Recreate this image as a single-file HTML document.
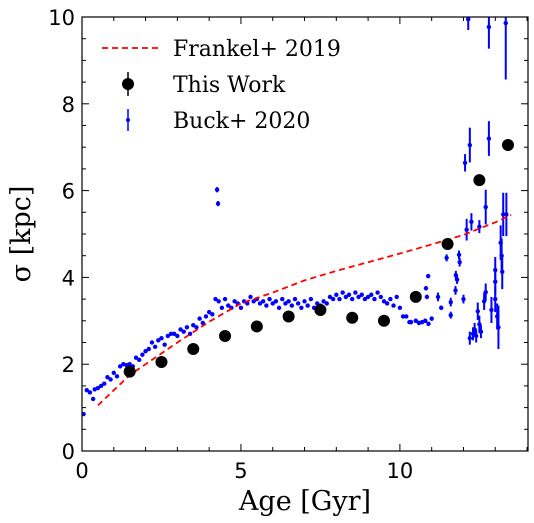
<!DOCTYPE html>
<html><head><meta charset="utf-8"><style>
html,body{margin:0;padding:0;background:#fff;}
svg{display:block;}
</style></head><body>
<svg id="chart" width="534" height="523" xmlns="http://www.w3.org/2000/svg"></svg>
<script>
const frankelAge=[0.5,1,1.5,2,3,4,5,6,7,8,9,10,11,12,13,13.5];
const frankelSig=[1.05,1.4,1.75,2.0,2.5,2.98,3.4,3.65,3.93,4.15,4.35,4.55,4.76,4.98,5.27,5.44];
const workAge=[1.5,2.5,3.5,4.5,5.5,6.5,7.5,8.5,9.5,10.5,11.5,12.5,13.4];
const workSig=[1.83,2.05,2.35,2.65,2.87,3.1,3.25,3.07,3.0,3.55,4.77,6.24,7.05];
// Buck+2020, young/smooth part (tiny error bars)
const buckAge=[0.05,0.15,0.25,0.35,0.4,0.5,0.6,0.7,0.8,0.9,1.0,1.1,1.2,1.3,1.4,1.5,1.6,1.7,1.8,1.9,2.0,2.1,2.2,2.3,2.4,2.5,2.6,2.7,2.8,2.9,3.0,3.1,3.2,3.3,3.4,3.5,3.6,3.7,3.8,3.9,4.0,4.1,4.2,4.3,4.4,4.5,4.6,4.7,4.8,4.9,5.0,5.1,5.2,5.3,5.4,5.5,5.6,5.7,5.8,5.9,6.0,6.1,6.2,6.3,6.4,6.5,6.6,6.7,6.8,6.9,7.0,7.1,7.2,7.3,7.4,7.5,7.6,7.7,7.8,7.9,8.0,8.1,8.2,8.3,8.4,8.5,8.6,8.7,8.8,8.9,9.0,9.1,9.2,9.3,9.4,9.5,9.6,9.7,9.8,9.9,10.0,10.1,10.2,10.3];
const buckSig=[0.85,1.4,1.35,1.2,1.42,1.45,1.5,1.55,1.7,1.65,1.8,1.72,1.95,2.0,1.98,2.0,1.95,2.15,2.1,2.22,2.3,2.35,2.5,2.4,2.55,2.6,2.45,2.65,2.7,2.7,2.65,2.8,2.75,2.85,2.7,2.9,2.85,3.05,2.95,3.1,3.2,3.15,3.5,3.45,3.3,3.5,3.35,3.3,3.45,3.4,3.3,3.45,3.4,3.55,3.45,3.5,3.4,3.45,3.35,3.5,3.4,3.45,3.3,3.5,3.4,3.45,3.35,3.5,3.4,3.3,3.45,3.35,3.5,3.3,3.4,3.35,3.45,3.4,3.55,3.5,3.6,3.5,3.65,3.55,3.6,3.5,3.65,3.55,3.6,3.5,3.55,3.6,3.5,3.65,3.55,3.45,3.4,3.5,3.35,3.55,3.3,3.1,3.1,2.97];
// Buck+2020, old/noisy part with error bars
const oldAge=[10.35,10.5,10.6,10.7,10.8,10.82,10.85,10.89,10.9,11.0,11.2,11.3,11.47,11.6,11.6,11.75,11.76,11.8,11.86,11.88,12.0,12.05,12.1,12.2,12.25,12.3,12.35,12.4,12.45,12.5,12.5,12.55,12.7,12.7,12.8,12.88,13.0,13.0,13.0,13.06,13.1,13.17,13.2,13.22,13.25,13.35,12.15,12.8,13.33,12.2,12.65,4.25,4.28];
const oldSig=[2.97,3.0,2.95,2.97,3.0,3.75,3.55,4.03,2.93,3.05,3.55,3.3,4.45,3.43,3.13,3.7,4.05,3.95,4.52,4.35,3.5,6.64,5.1,7.05,5.28,2.7,2.8,2.65,3.22,2.92,5.17,2.75,3.66,5.62,7.2,3.25,4.17,3.9,3.5,3.1,2.85,4.8,4.5,4.13,5.45,5.45,9.95,9.77,9.86,2.6,3.45,6.02,5.7];
const oldErr=[0.05,0.05,0.05,0.05,0.05,0.05,0.05,0.05,0.05,0.05,0.1,0.05,0.08,0.1,0.08,0.1,0.1,0.1,0.1,0.1,0.1,0.2,0.25,0.4,0.2,0.15,0.15,0.15,0.2,0.2,0.15,0.15,0.2,0.4,0.4,0.3,0.3,0.3,0.3,0.3,0.5,0.4,0.4,0.4,0.5,0.5,0.25,0.5,1.3,0.15,0.2,0.06,0.06];
const xTicks=[0,5,10];
const yTicks=[0,2,4,6,8,10];

const svg=document.getElementById('chart');
const NS='http://www.w3.org/2000/svg';
const L=82,R=528,T=17,B=451;
function xs(a){return L+a*(R-L)/14.03;}
function ys(v){return B-v*(B-T)/10;}
function mk(tag,attrs,parent){const e=document.createElementNS(NS,tag);for(const k in attrs)e.setAttribute(k,attrs[k]);(parent||svg).appendChild(e);return e;}

const defs=mk('defs',{});
const cp=mk('clipPath',{id:'clip'},defs);
mk('rect',{x:L,y:T,width:R-L,height:B-T},cp);

const gBuck=mk('g',{'clip-path':'url(#clip)'});


for(let i=0;i<buckAge.length;i++){
  const p=mk('circle',{cx:xs(buckAge[i]),cy:ys(buckSig[i]),r:2.2,fill:'#0000ff'},gBuck);
  
  
}
for(let i=0;i<oldAge.length;i++){
  const cx=xs(oldAge[i]);
  const el=mk('line',{x1:cx,x2:cx,y1:ys(oldSig[i]-oldErr[i]),y2:ys(oldSig[i]+oldErr[i]),stroke:'#0000ff','stroke-width':2},gBuck);
  
  
  const p=mk('circle',{cx:cx,cy:ys(oldSig[i]),r:2.2,fill:'#0000ff'},gBuck);
  
  
}
let d='';
for(let i=0;i<frankelAge.length;i++)d+=(i?'L':'M')+xs(frankelAge[i]).toFixed(1)+' '+ys(frankelSig[i]).toFixed(1);
const fl=mk('path',{d:d,fill:'none',stroke:'#ff0000','stroke-width':1.8,'stroke-dasharray':'6 4'});


for(let i=0;i<workAge.length;i++){
  const c=mk('circle',{cx:xs(workAge[i]),cy:ys(workSig[i]),r:6,fill:'#000'});
  
  
}
const fr=mk('rect',{x:L,y:T,width:R-L,height:B-T,fill:'none',stroke:'#000','stroke-width':1.2});


const tg=mk('g',{stroke:'#000','stroke-width':1});


for(let a=0;a<=14;a++){
  const len=(a%5===0)?7:4,x=xs(a);
  mk('line',{x1:x,x2:x,y1:B,y2:B-len},tg);
  mk('line',{x1:x,x2:x,y1:T,y2:T+len},tg);
}
for(let v=0;v<=10;v+=0.5){
  const len=(v%2===0)?7:4,y=ys(v);
  mk('line',{x1:L,x2:L+len,y1:y,y2:y},tg);
  mk('line',{x1:R,x2:R-len,y1:y,y2:y},tg);
}
for(const t of xTicks){
  const e=mk('text',{x:xs(t),y:B+27,'text-anchor':'middle','font-family':'DejaVu Sans, sans-serif','font-size':21});
  e.textContent=t;
  
  
}
for(const t of yTicks){
  const e=mk('text',{x:L-7,y:ys(t)+8,'text-anchor':'end','font-family':'DejaVu Sans, sans-serif','font-size':21});
  e.textContent=t;
  
  
}
const xt=mk('text',{x:305,y:510,'text-anchor':'middle','font-family':'DejaVu Serif, serif','font-size':27});
xt.textContent='Age [Gyr]';


const yt=mk('text',{x:0,y:0,'text-anchor':'middle','font-family':'DejaVu Serif, serif','font-size':27,transform:'translate(30,234) rotate(-90)'});
yt.textContent='σ [kpc]';


const lg=mk('g',{});


mk('line',{x1:102,x2:160,y1:48,y2:48,stroke:'#ff0000','stroke-width':1.8,'stroke-dasharray':'6 4'},lg);
mk('circle',{cx:128,cy:84,r:6,fill:'#000'},lg);
mk('line',{x1:128,x2:128,y1:72,y2:96,stroke:'#000','stroke-width':1.5},lg);
mk('line',{x1:128,x2:128,y1:109,y2:131,stroke:'#0000ff','stroke-width':1.5},lg);
mk('circle',{cx:128,cy:120,r:2,fill:'#0000ff'},lg);
const labels=['Frankel+ 2019','This Work','Buck+ 2020'];
for(let i=0;i<3;i++){
  const e=mk('text',{x:173,y:56+i*36,'font-family':'DejaVu Serif, serif','font-size':22},lg);
  e.textContent=labels[i];
  
  
}
</script>
</body></html>
